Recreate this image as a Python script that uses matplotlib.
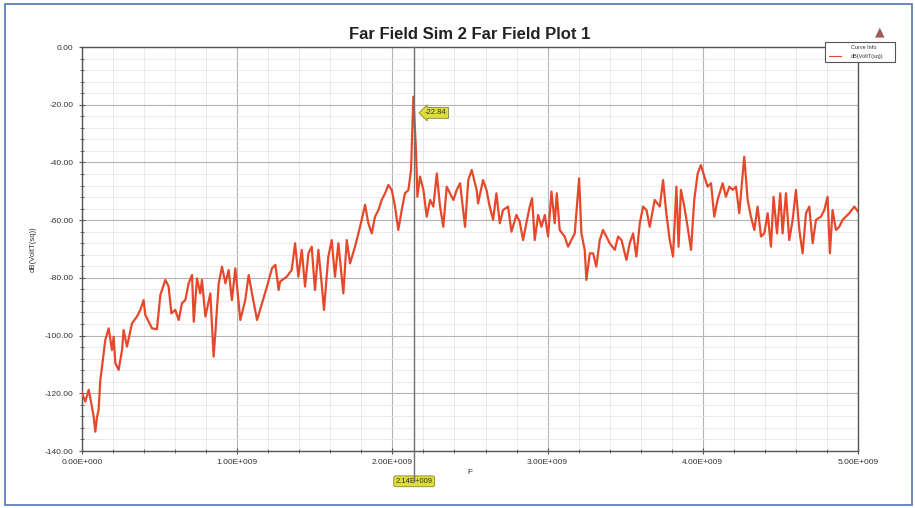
import matplotlib
matplotlib.use('Agg')
import numpy as np
from matplotlib import pyplot as plt
from matplotlib.patches import Rectangle
from matplotlib.ticker import MultipleLocator, FuncFormatter

# 频率 (GHz) 与 dB 值
freq_ghz = [
    0.000, 0.021, 0.043, 0.060, 0.075, 0.086, 0.097, 0.107, 0.118, 0.129,
    0.150, 0.172, 0.193, 0.204, 0.215, 0.236, 0.258, 0.268, 0.290, 0.322,
    0.354, 0.376, 0.397, 0.408, 0.430, 0.451, 0.483, 0.505, 0.537, 0.558,
    0.576, 0.601, 0.623, 0.644, 0.666, 0.687, 0.709, 0.720, 0.741, 0.762,
    0.773, 0.795, 0.827, 0.848, 0.859, 0.881, 0.902, 0.924, 0.945, 0.966,
    0.988, 1.020, 1.052, 1.074, 1.095, 1.128, 1.160, 1.192, 1.224, 1.246,
    1.267, 1.276, 1.319, 1.351, 1.373, 1.394, 1.416, 1.437, 1.459, 1.480,
    1.501, 1.523, 1.544, 1.559, 1.587, 1.609, 1.630, 1.652, 1.684, 1.706,
    1.727, 1.759, 1.781, 1.802, 1.824, 1.845, 1.867, 1.888, 1.910, 1.931,
    1.953, 1.974, 1.996, 2.017, 2.038, 2.060, 2.081, 2.103, 2.120, 2.135,
    2.152, 2.161, 2.178, 2.200, 2.221, 2.243, 2.264, 2.286, 2.307, 2.328,
    2.350, 2.371, 2.393, 2.414, 2.436, 2.468, 2.489, 2.511, 2.543, 2.552,
    2.584, 2.606, 2.627, 2.649, 2.670, 2.692, 2.713, 2.745, 2.767, 2.799,
    2.820, 2.842, 2.863, 2.885, 2.900, 2.917, 2.939, 2.960, 2.982, 3.003,
    3.025, 3.046, 3.059, 3.078, 3.110, 3.132, 3.153, 3.175, 3.203, 3.218,
    3.239, 3.250, 3.272, 3.293, 3.314, 3.336, 3.357, 3.379, 3.400, 3.433,
    3.454, 3.476, 3.508, 3.529, 3.551, 3.572, 3.594, 3.615, 3.637, 3.658,
    3.690, 3.723, 3.744, 3.765, 3.787, 3.808, 3.830, 3.844, 3.859, 3.881,
    3.902, 3.924, 3.945, 3.967, 3.988, 4.010, 4.031, 4.053, 4.074, 4.095,
    4.128, 4.149, 4.171, 4.192, 4.214, 4.235, 4.267, 4.289, 4.310, 4.332,
    4.353, 4.375, 4.396, 4.418, 4.439, 4.456, 4.478, 4.499, 4.514, 4.536,
    4.557, 4.579, 4.600, 4.622, 4.643, 4.665, 4.686, 4.708, 4.729, 4.761,
    4.783, 4.804, 4.819, 4.836, 4.858, 4.879, 4.901, 4.922, 4.944, 4.976,
    5.000,
]
db_vals = [
    -120.0, -122.9, -118.8, -123.5, -128.1, -133.3, -128.1, -125.8, -115.4, -110.8,
    -101.5, -97.5, -105.0, -100.4, -109.6, -111.9, -105.0, -98.1, -103.8, -95.8,
    -93.4, -91.1, -87.7, -92.9, -95.2, -97.5, -97.8, -85.9, -80.7, -83.0,
    -92.3, -91.1, -94.6, -88.8, -87.7, -81.9, -79.0, -95.2, -80.2, -85.4,
    -80.7, -93.4, -85.4, -107.3, -99.2, -81.9, -76.1, -81.9, -77.3, -87.7,
    -76.7, -94.6, -87.7, -79.0, -85.4, -94.6, -88.8, -83.0, -76.7, -75.5,
    -84.2, -81.3, -79.6, -77.3, -68.0, -79.6, -70.3, -83.0, -71.5, -69.2,
    -84.2, -70.3, -81.9, -91.1, -72.7, -66.9, -79.6, -68.0, -85.4, -66.9,
    -75.0, -69.2, -64.6, -59.9, -54.7, -61.1, -64.6, -58.8, -56.5, -53.0,
    -50.7, -47.8, -49.6, -55.3, -63.4, -56.5, -50.7, -49.6, -42.6, -17.2,
    -35.7, -51.9, -44.9, -49.6, -58.8, -53.0, -55.3, -43.8, -55.3, -62.3,
    -48.4, -50.7, -53.0, -49.6, -47.2, -62.3, -46.1, -42.6, -49.6, -54.2,
    -46.1, -49.5, -55.3, -59.9, -50.7, -61.1, -56.5, -55.3, -64.0, -58.2,
    -60.5, -66.9, -61.1, -55.3, -52.4, -66.9, -58.2, -62.3, -58.2, -65.7,
    -50.1, -61.1, -50.7, -63.4, -65.7, -69.2, -66.9, -64.6, -45.5, -64.6,
    -70.3, -80.7, -71.5, -71.5, -76.1, -66.9, -63.4, -65.7, -68.0, -70.3,
    -65.7, -66.9, -73.8, -68.0, -64.6, -72.6, -61.1, -55.3, -56.5, -62.3,
    -53.0, -55.3, -46.1, -57.6, -66.9, -72.6, -48.4, -69.2, -49.5, -55.3,
    -62.3, -70.3, -53.0, -43.8, -40.9, -44.9, -48.4, -47.2, -58.8, -53.0,
    -47.2, -51.9, -48.4, -49.5, -48.4, -57.6, -38.0, -53.0, -58.8, -63.4,
    -55.3, -65.7, -64.6, -57.6, -69.2, -51.9, -64.6, -50.7, -64.6, -50.7,
    -66.9, -59.9, -49.5, -63.4, -71.5, -57.6, -55.3, -68.0, -59.9, -58.8,
    -56.5, -51.9, -71.5, -56.5, -63.4, -62.3, -59.9, -58.8, -57.6, -55.3,
    -57.0,
]

marker_f = 2.14e9
marker_label = '2.14E+009'
peak_label = '-22.84'

plt.rcParams['font.family'] = ['Liberation Sans', 'DejaVu Sans']

fig = plt.figure(figsize=(9.15, 5.08), dpi=100)
ax = fig.add_axes([82 / 915, 1 - 451 / 508, (858 - 82) / 915, (451 - 47) / 508])

# 外框
fig.patches.append(Rectangle((5 / 915, 3 / 508), 907 / 915, 501 / 508, transform=fig.transFigure,
                             fill=False, edgecolor='#4f77b0', linewidth=1.2))

f_hz = np.array(freq_ghz) * 1e9
ax.plot(f_hz, db_vals, color='#e6482c', linewidth=1.6, zorder=3)

ax.set_xlim(0, 5e9)
ax.set_ylim(-140, 0)
ax.xaxis.set_major_locator(MultipleLocator(1e9))
ax.xaxis.set_minor_locator(MultipleLocator(0.2e9))
ax.yaxis.set_major_locator(MultipleLocator(20))
ax.yaxis.set_minor_locator(MultipleLocator(4))
ax.xaxis.set_major_formatter(FuncFormatter(lambda v, p: '%.2fE+%03d' % (v / 1e9 if v else 0, 9 if v else 0)))
ax.yaxis.set_major_formatter(FuncFormatter(lambda v, p: '%.2f' % v))
ax.grid(which='major', color='#b4b4b4', linewidth=0.8)
ax.grid(which='minor', color='#e6e6e6', linewidth=0.6)
ax.set_axisbelow(True)
ax.tick_params(which='both', direction='inout', colors='#555555', labelsize=6, labelcolor='#333333')
ax.tick_params(which='major', length=5)
ax.tick_params(which='minor', length=3)
for s in ax.spines.values():
    s.set_color('#555555')
    s.set_linewidth(1.0)

ax.set_title('Far Field Sim 2 Far Field Plot 1', fontsize=12, fontweight='bold', color='#222222', pad=6)
ax.set_xlabel('F', fontsize=6, color='#333333', labelpad=2)
ax.set_ylabel('dB(VoltT(sq))', fontsize=5.5, color='#333333', labelpad=6)

# 标记线
ax.plot([marker_f, marker_f], [1.0, -0.075], transform=ax.get_xaxis_transform(), color='#707070',
        linewidth=1.0, clip_on=False, zorder=4)
ax.text(marker_f, -0.075, marker_label, transform=ax.get_xaxis_transform(), ha='center', va='center',
        fontsize=5.5, color='#333333',
        bbox=dict(boxstyle='round,pad=0.25', facecolor='#dede3a', edgecolor='#888833', linewidth=0.6))
ax.text(marker_f + 0.07e9, -22.84, peak_label, ha='left', va='center', fontsize=5.5, color='#333333',
        bbox=dict(boxstyle='larrow,pad=0.25', facecolor='#dede3a', edgecolor='#888833', linewidth=0.6),
        zorder=5)

# 图例
lx0, ly0, lw, lh = 825 / 915, 1 - 62 / 508, 70 / 915, 20 / 508
fig.patches.append(Rectangle((lx0, ly0), lw, lh, transform=fig.transFigure, facecolor='white',
                             edgecolor='#555555', linewidth=0.8))
fig.text(lx0 + lw * 0.55, ly0 + lh * 0.72, 'Curve Info', fontsize=4, ha='center', va='center', color='#333333')
fig.add_artist(plt.Line2D([lx0 + 0.004, lx0 + 0.018], [ly0 + lh * 0.28] * 2, transform=fig.transFigure,
                          color='#e6482c', linewidth=0.8))
fig.text(lx0 + lw * 0.6, ly0 + lh * 0.28, 'dB(VoltT(sq))', fontsize=4, ha='center', va='center', color='#333333')

fig.text(880 / 915, 1 - 32 / 508, '\u25b2', fontsize=9, ha='center', va='center', color='#a05a5a',
         family='DejaVu Sans')

plt.savefig('out.png', dpi=100)
